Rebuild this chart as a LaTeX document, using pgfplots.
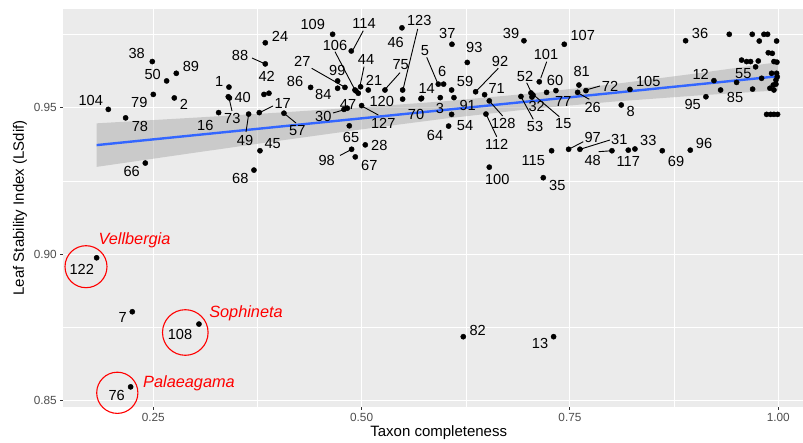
\documentclass[border=0pt]{standalone}
\usepackage{pgfplots}
\pgfplotsset{compat=1.18}
\usepackage{fontspec}
\setmainfont{Liberation Sans}
\definecolor{panelbg}{HTML}{EBEBEB}
\definecolor{ticklab}{HTML}{4D4D4D}
\definecolor{tickcol}{HTML}{333333}
\definecolor{smoothblue}{HTML}{3366FF}
\definecolor{bandgrey}{HTML}{999999}
\newcommand{\lab}[3]{\node[lbl] at (#1,#2) {#3};}
\begin{document}
\begin{tikzpicture}
\useasboundingbox (0pt,0pt) rectangle (803pt,-443pt);
\begin{axis}[
  at={(63.3pt,-406.5pt)}, anchor=south west,
  scale only axis, width=739.7pt, height=397.2pt,
  xmin=0.1420, xmax=1.0297, ymin=0.8481, ymax=0.98352,
  axis background/.style={fill=panelbg},
  axis line style={draw=none},
  grid=both,
  major grid style={white, line width=1.1pt},
  minor grid style={white, line width=0.55pt},
  xtick={0.25,0.5,0.75,1}, xticklabels={0.25,0.50,0.75,1.00},
  ytick={0.85,0.9,0.95}, yticklabels={0.85,0.90,0.95},
  minor xtick={0.375,0.625,0.875}, minor ytick={0.875,0.925,0.975},
  tick pos=left, tick align=outside,
  major tick length=3pt, minor tick length=0pt,
  tick style={tickcol, line width=1.1pt},
  tick label style={font=\fontsize{11.8}{13}\selectfont, text=ticklab},
  /pgf/number format/assume math mode=true,
  xlabel={Taxon completeness}, ylabel={Leaf Stability Index (LSdif)},
  every axis x label/.style={at={(axis description cs:0.5075,-0.0655)}, anchor=center, font=\fontsize{15}{18}\selectfont},
  every axis y label/.style={at={(axis description cs:-0.0585,0.5)}, anchor=center, rotate=90, font=\fontsize{15}{18}\selectfont},
  clip=false,
]
\addplot[only marks, mark=*, mark size=2.6pt, mark options={draw=black, fill=black}] coordinates {
(0.1960,0.9494) (0.2168,0.9465) (0.2500,0.9545) (0.2488,0.9657) (0.2660,0.9591)
(0.2776,0.9617) (0.2752,0.9533) (0.2404,0.9311) (0.3284,0.9483) (0.3408,0.9570)
(0.3400,0.9537) (0.3414,0.9533) (0.3644,0.9478) (0.3772,0.9483) (0.4068,0.9481)
(0.3780,0.9353) (0.3708,0.9287) (0.3844,0.9721) (0.3844,0.9649) (0.3828,0.9545)
(0.3888,0.9549) (0.4388,0.9569) (0.4712,0.9591) (0.4712,0.9566) (0.4800,0.9569)
(0.4652,0.9750) (0.4876,0.9693) (0.4920,0.9560) (0.4960,0.9549) (0.4988,0.9571)
(0.4932,0.9557) (0.5080,0.9560) (0.5280,0.9560) (0.5492,0.9560) (0.5484,0.9772)
(0.5492,0.9529) (0.5720,0.9532) (0.5712,0.9530) (0.4828,0.9498) (0.4788,0.9494)
(0.5000,0.9507) (0.4852,0.9438) (0.5044,0.9373) (0.4880,0.9358) (0.4924,0.9332)
(0.6084,0.9716) (0.5920,0.9580) (0.5984,0.9580) (0.6080,0.9560) (0.5944,0.9534)
(0.6108,0.9534) (0.6044,0.9437) (0.6080,0.9477) (0.6268,0.9654) (0.6368,0.9554)
(0.6476,0.9544) (0.6532,0.9523) (0.6492,0.9478) (0.6532,0.9297) (0.6948,0.9728)
(0.7432,0.9716) (0.7132,0.9588) (0.6912,0.9538) (0.7032,0.9550) (0.7056,0.9543)
(0.7044,0.9536) (0.7220,0.9552) (0.7332,0.9558) (0.7608,0.9577) (0.7592,0.9552)
(0.7692,0.9558) (0.8220,0.9562) (0.8116,0.9509) (0.7280,0.9353) (0.7180,0.9261)
(0.7484,0.9358) (0.7620,0.9358) (0.8004,0.9353) (0.8200,0.9355) (0.8280,0.9359)
(0.8608,0.9353) (0.8944,0.9355) (0.8888,0.9728) (0.9228,0.9592) (0.9132,0.9537)
(0.9308,0.9560) (0.9500,0.9586)
(0.9412,0.9750) (0.9688,0.9750) (0.9772,0.9727) (0.9828,0.9750) (0.9872,0.9750)
(0.9980,0.9727) (0.9880,0.9687) (0.9928,0.9685) (0.9560,0.9662) (0.9620,0.9657)
(0.9668,0.9657) (0.9760,0.9659) (0.9948,0.9657) (0.9984,0.9655) (0.9728,0.9639)
(0.9920,0.9617) (0.9980,0.9617) (0.9988,0.9605) (0.9800,0.9600) (0.9972,0.9594)
(0.9940,0.9577) (0.9692,0.9563) (0.9900,0.9566) (0.9948,0.9560) (0.9972,0.9580)
(0.9860,0.9477) (0.9908,0.9477) (0.9948,0.9477) (0.9992,0.9477)
(0.1820,0.8988) (0.2248,0.8804) (0.3048,0.8762) (0.2228,0.8548) (0.6220,0.8719)
(0.7304,0.8719)
};
\addplot[draw=none, fill=bandgrey, fill opacity=0.4] coordinates {
(0.182,0.94464) (0.3,0.94658) (0.4,0.94829) (0.5,0.95011) (0.6,0.95218)
(0.7,0.95474) (0.8,0.95792) (0.9,0.96159) (1.0,0.96551)
(1.0,0.95589) (0.9,0.95407) (0.8,0.95200) (0.7,0.94944) (0.6,0.94626)
(0.5,0.94259) (0.4,0.93867) (0.3,0.93464) (0.182,0.92980)
} -- cycle;
\addplot[smoothblue, line width=2.4pt] coordinates {(0.182,0.93722) (1.0,0.9607)};
\end{axis}
\begin{scope}[x=1pt,y=-1pt, lbl/.style={anchor=center, inner sep=0pt, font=\fontsize{14.6}{16}\selectfont},
  seg/.style={black, line width=0.9pt}, taxon/.style={text=red, draw=none, font=\fontsize{16.3}{18}\selectfont\itshape, inner sep=0pt, anchor=center}]
% segments
\draw[seg] (229,98) -- (232,111);
\draw[seg] (252,58) -- (265.3,64);
\draw[seg] (259.3,112.7) -- (273,106);
\draw[seg] (248.7,114) -- (246,132);
\draw[seg] (284,113.3) -- (296,123);
\draw[seg] (311.7,68.3) -- (345,87.3);
\draw[seg] (363.3,30.7) -- (353.3,49.3);
\draw[seg] (335,51.7) -- (356.7,93.3);
\draw[seg] (364,66.7) -- (360,86);
\draw[seg] (333,113) -- (345,109.5);
\draw[seg] (361.7,106) -- (378.3,115);
\draw[seg] (340,155.5) -- (351.7,149.3);
\draw[seg] (417.7,29) -- (403.3,88.3);
\draw[seg] (400,72.7) -- (386,88.3);
\draw[seg] (426.7,57.3) -- (437.7,83.3);
\draw[seg] (498.3,68.3) -- (476.7,90.7);
\draw[seg] (489.3,101) -- (502.7,116);
\draw[seg] (486,114) -- (496.7,136.7);
\draw[seg] (546.7,61.7) -- (540.7,78.3);
\draw[seg] (526.7,82.7) -- (531.7,93.3);
\draw[seg] (521,96.7) -- (533.3,119.3);
\draw[seg] (531.7,93.3) -- (559.3,116.7);
\draw[seg] (586,90) -- (600,86);
\draw[seg] (577.7,92.7) -- (589.3,99.3);
\draw[seg] (568.7,149.3) -- (583.3,141.7);
\draw[seg] (580,149.3) -- (610,140);
\draw[seg] (598.7,151.7) -- (612,150.7);
% labels
\lab{136.7}{53.3}{38} \lab{152.7}{74.3}{50} \lab{191}{66.7}{89} \lab{139.3}{102.7}{79}
\lab{184}{104}{2} \lab{90.7}{100.7}{104} \lab{140}{126}{78} \lab{131.7}{171}{66}
\lab{219.3}{81.7}{1} \lab{242.7}{97.7}{40} \lab{232.3}{118.3}{73} \lab{205.3}{125.7}{16}
\lab{240}{55}{88} \lab{280}{36}{24} \lab{266.7}{76.7}{42} \lab{282.7}{103.3}{17}
\lab{245}{140}{49} \lab{297.3}{130.7}{57} \lab{272.7}{144}{45} \lab{240.3}{178.3}{68}
\lab{295}{81.7}{86} \lab{302.3}{61}{27} \lab{312.7}{24}{109} \lab{364}{23.3}{114}
\lab{335}{45}{106} \lab{337.3}{70.7}{99} \lab{323.3}{94.3}{84} \lab{366}{59.3}{44}
\lab{374}{80.7}{21} \lab{348}{104}{47} \lab{323.3}{116.7}{30} \lab{383.3}{123.3}{127}
\lab{351}{137.3}{65} \lab{326.7}{160}{98} \lab{379.3}{145}{28} \lab{369.3}{165.7}{67}
\lab{419.3}{20.7}{123} \lab{395.7}{42.3}{46} \lab{400.7}{65}{75} \lab{381.7}{101.7}{120}
\lab{426.7}{88.3}{14} \lab{416}{114}{70} \lab{447.3}{33.3}{37} \lab{474.3}{47.3}{93}
\lab{425}{50.7}{5} \lab{442.3}{71.7}{6} \lab{465}{81}{59} \lab{440}{108.3}{3}
\lab{467.7}{105}{91} \lab{435}{135}{64} \lab{465}{126}{54} \lab{500}{61.7}{92}
\lab{496.7}{88.3}{71} \lab{503.3}{123.3}{128} \lab{496.7}{144}{112} \lab{497.3}{179}{100}
\lab{511}{33.5}{39} \lab{582.7}{35}{107} \lab{546}{54}{101} \lab{525}{76}{52}
\lab{555}{80}{60} \lab{536.7}{106.7}{32} \lab{563.3}{101.7}{77} \lab{535}{126.7}{53}
\lab{563.3}{123.3}{15} \lab{581.7}{71}{81} \lab{610}{86}{72} \lab{592.7}{107.7}{26}
\lab{648.3}{81.7}{105} \lab{630.7}{111}{8} \lab{533.3}{160.7}{115} \lab{557.3}{185}{35}
\lab{592.7}{137.3}{97} \lab{619.3}{139.3}{31} \lab{592.7}{160.7}{48} \lab{628.3}{161.7}{117}
\lab{648.3}{140.7}{33} \lab{676}{161}{69} \lab{704}{143.3}{96} \lab{700}{33.3}{36}
\lab{700.7}{74}{12} \lab{692.7}{104}{95} \lab{735}{97.7}{85} \lab{743.3}{74}{55}
\lab{81.7}{269.3}{122} \lab{122.7}{317.3}{7} \lab{180}{334.3}{108} \lab{116.7}{395}{76}
\lab{477.7}{330}{82} \lab{540}{343.3}{13}
% highlighted taxa
\draw[red, line width=1.1pt] (86,266.7) circle[radius=21pt];
\draw[red, line width=1.1pt] (185.3,332.5) circle[radius=22.8pt];
\draw[red, line width=1.1pt] (117.3,392.8) circle[radius=20.6pt];
\node[taxon] at (134.5,240.7) {Vellbergia};
\node[taxon] at (246,313.3) {Sophineta};
\node[taxon] at (189,383.3) {Palaeagama};
\end{scope}
\end{tikzpicture}
\end{document}
